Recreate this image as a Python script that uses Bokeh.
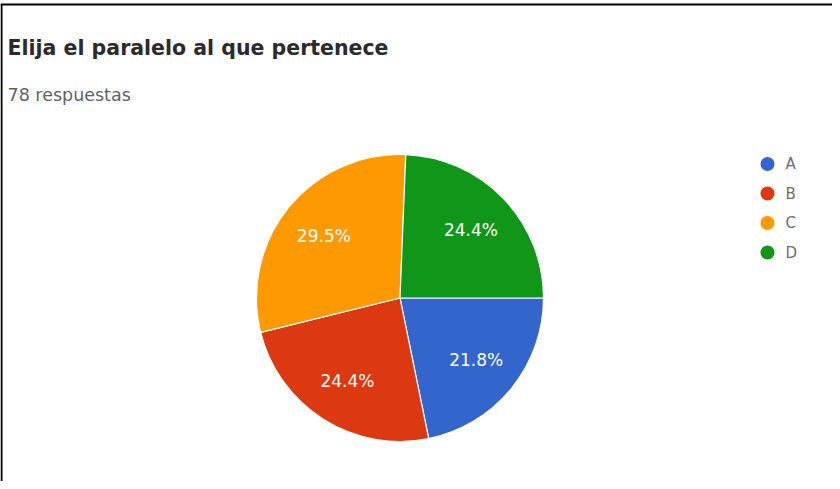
import math
from bokeh.plotting import figure
from bokeh.models import Range1d, ColumnDataSource
from bokeh.core.properties import value
from bokeh.embed import file_html
from bokeh.resources import INLINE

# ---- data ----
title = "Elija el paralelo al que pertenece"
subtitle = "78 respuestas"
categories = ["A", "B", "C", "D"]
counts = [17, 19, 23, 19]
colors = ["#3366cc", "#dc3912", "#ff9900", "#109618"]

W, H = 832, 481
p = figure(width=W, height=H, output_backend="svg", toolbar_location=None,
           x_range=Range1d(0, W), y_range=Range1d(0, H),
           x_axis_type=None, y_axis_type=None, min_border=0)
p.outline_line_color = None
p.background_fill_color = "white"
p.border_fill_color = "white"
p.xgrid.visible = False
p.ygrid.visible = False

# pie geometry (layout)
cx, cy, R = 399.5, 183.5, 143.5
total = sum(counts)
fr = [c / total for c in counts]
cum0, cum1 = [], []
acc = 0.0
for f in fr:
    cum0.append(acc)
    acc += f
    cum1.append(acc)

start = [-c1 * 2 * math.pi for c1 in cum1]
end = [-c0 * 2 * math.pi for c0 in cum0]
src = ColumnDataSource(dict(cat=categories, start=start, end=end, color=colors))
p.wedge(x=cx, y=cy, radius=R, start_angle="start", end_angle="end",
        direction="anticlock", fill_color="color", line_color="white",
        line_width=1.2, source=src)

# slice labels
mid = [-(a + b) * math.pi for a, b in zip(cum0, cum1)]
lr = 0.685 * R
lab = ColumnDataSource(dict(
    x=[cx + lr * math.cos(m) for m in mid],
    y=[cy + lr * math.sin(m) for m in mid],
    t=[f"{100 * f:.1f}%" for f in fr]))
p.text(x="x", y="y", text="t", source=lab, text_color="white",
       text_font=value("DejaVu Sans"), text_font_size="17px",
       text_align="center", text_baseline="middle")

# title / subtitle
p.text(x=[7], y=[434], text=[title], text_font=value("DejaVu Sans"),
       text_font_style="bold", text_font_size="20.5px", text_color="#2b2b2b",
       text_baseline="alphabetic")
p.text(x=[7], y=[387], text=[subtitle], text_font=value("DejaVu Sans"),
       text_font_size="17.5px", text_color="#5f6368", text_baseline="alphabetic")

# legend
ly0, lstep = 317.5, 29.5
leg = ColumnDataSource(dict(
    x=[767] * len(categories),
    y=[ly0 - i * lstep for i in range(len(categories))],
    tx=[785] * len(categories),
    cat=categories, color=colors))
p.scatter(x="x", y="y", size=14, fill_color="color", line_color=None, source=leg)
p.text(x="tx", y="y", text="cat", source=leg, text_font=value("DejaVu Sans"),
       text_font_size="15px", text_color="#6b6f73", text_baseline="middle")

# frame lines of the screenshot
p.segment(x0=[0, 1], y0=[477, 0], x1=[W, 1], y1=[477, 477],
          line_color="black", line_width=2)

open("out.html", "w").write(file_html(p, INLINE))
